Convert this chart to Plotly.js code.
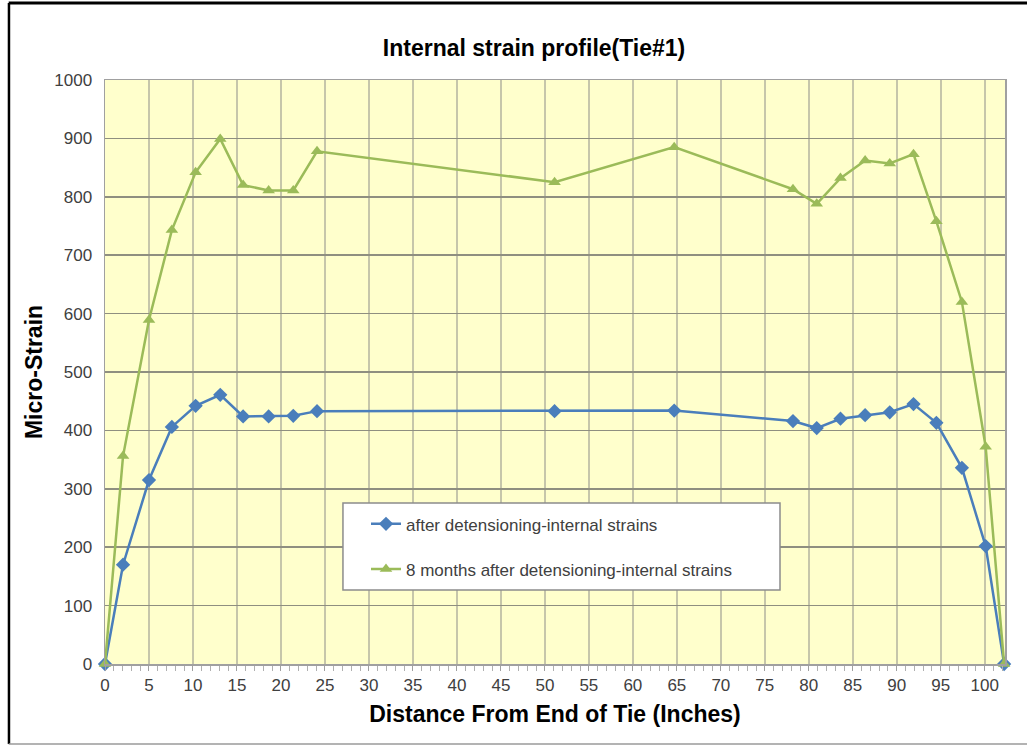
<!DOCTYPE html>
<html>
<head>
<meta charset="utf-8">
<script src="https://cdn.plot.ly/plotly-3.0.1.min.js"></script>
<style>html,body{margin:0;padding:0;background:#fff;}#chart{width:1027px;height:746px;}</style>
</head>
<body>
<div id="chart"></div>
<script>
const distance = [0, 2.05, 5.0, 7.6, 10.3, 13.1, 15.7, 18.6, 21.4, 24.1, 51.1, 64.7, 78.2, 80.9, 83.6, 86.4, 89.2, 91.9, 94.5, 97.4, 100.1, 102.2];
const afterDetensioning = [0, 170, 315, 406, 442, 461, 424, 424, 425, 433, 433, 434, 416, 404, 420, 426, 431, 445, 413, 336, 202, 0];
const eightMonthsAfter = [0, 356, 589, 743, 842, 899, 820, 811, 811, 878, 825, 885, 813, 788, 832, 862, 857, 873, 758, 620, 372, 0];
const seriesNames = ["after detensioning-internal strains", "8 months after detensioning-internal strains"];
const xTicks = [0,5,10,15,20,25,30,35,40,45,50,55,60,65,70,75,80,85,90,95,100];
const yTicks = [0,100,200,300,400,500,600,700,800,900,1000];

const blue = '#4a7ebb', green = '#9bbb59';
const traces = [
  {x: distance, y: afterDetensioning, name: seriesNames[0], type: 'scatter', mode: 'lines+markers',
   legendgroup: 'a', line: {color: blue, width: 2.5}, marker: {symbol: 'diamond', size: 11, color: blue}, cliponaxis: false},
  {x: distance, y: eightMonthsAfter, name: seriesNames[1], type: 'scatter', mode: 'lines+markers',
   legendgroup: 'b', line: {color: green, width: 2.5}, marker: {symbol: 'triangle-up', size: 11, color: green}, cliponaxis: false}
];

const font = 'Liberation Sans, Arial, sans-serif';
const layout = {
  width: 1027, height: 746,
  margin: {l: 105, r: 22, t: 80, b: 82},
  paper_bgcolor: '#ffffff', plot_bgcolor: '#ffffcc',
  font: {family: font, size: 16, color: '#404040'},
  title: {text: 'Internal strain profile(Tie#1)', x: 0.52, xref: 'container', xanchor: 'center', y: 0.936, yanchor: 'middle',
          font: {family: font, size: 23, color: '#000', weight: 'bold'}},
  xaxis: {range: [0, 102.3], tickvals: xTicks, ticktext: xTicks.map(String), showgrid: true, gridcolor: '#c6c6aa', gridwidth: 1.5,
          zeroline: false, showline: true, linecolor: '#a0a0a0', linewidth: 1.5, mirror: true,
          ticks: 'outside', ticklen: 5, tickcolor: '#a0a0a0',
          minor: {dtick: 1, ticks: 'outside', ticklen: 5, tickcolor: '#b0b0b0', showgrid: false},
          tickfont: {size: 17, color: '#404040'},
          title: {text: 'Distance From End of Tie (Inches)', standoff: 12, font: {size: 23, color: '#000', weight: 'bold'}}},
  yaxis: {range: [0, 1000], tickvals: yTicks, ticktext: yTicks.map(String), showgrid: true, gridcolor: '#8f8f80', gridwidth: 1.5,
          zeroline: false, showline: true, linecolor: '#a0a0a0', linewidth: 1.5, mirror: true, ticks: '',
          ticklabelstandoff: 8, tickfont: {size: 17, color: '#404040'},
          title: {text: 'Micro-Strain', standoff: 5, font: {size: 23, color: '#000', weight: 'bold'}}},
  showlegend: true,
  legend: {x: 0.29, xanchor: 'left', y: 0.27, yanchor: 'top', bgcolor: 'rgba(0,0,0,0)', borderwidth: 0,
           traceorder: 'grouped', tracegroupgap: 20, font: {size: 17, color: '#404040'}},
  shapes: [
    {type: 'rect', xref: 'paper', yref: 'paper', x0: 0.2644, x1: 0.75, y0: 0.1267, y1: 0.2757,
     fillcolor: '#ffffff', line: {color: '#8c8c8c', width: 1.5}, layer: 'above'},
    {type: 'line', xref: 'paper', yref: 'paper', x0: -0.107, x1: 1.03, y0: 1.1318, y1: 1.1318, line: {color: '#000', width: 3}},
    {type: 'line', xref: 'paper', yref: 'paper', x0: -0.1067, x1: -0.1067, y0: 1.1318, y1: -0.137, line: {color: '#000', width: 2.5}},
    {type: 'line', xref: 'paper', yref: 'paper', x0: -0.107, x1: 1.03, y0: -0.137, y1: -0.137, line: {color: '#9a9a9a', width: 1.5}}
  ]
};
Plotly.newPlot('chart', traces, layout, {displayModeBar: false, staticPlot: true});
</script>
</body>
</html>
